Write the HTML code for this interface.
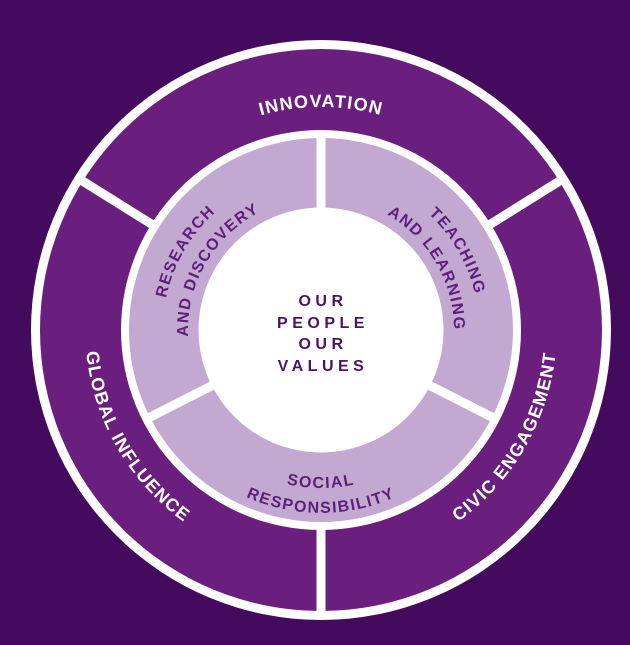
<!DOCTYPE html>
<html><head><meta charset="utf-8"><style>
html,body{margin:0;padding:0;background:#440a5e;}
svg{display:block}
text{font-family:"Liberation Sans",sans-serif;font-weight:bold;}
</style></head><body>
<svg width="630" height="645" viewBox="0 0 630 645" xmlns="http://www.w3.org/2000/svg">
<rect width="630" height="645" fill="#440a5e"/>
<circle cx="321" cy="330" r="290" fill="#ffffff"/>
<circle cx="321" cy="330" r="281" fill="#6a1f7e"/>
<circle cx="321" cy="330" r="200" fill="#ffffff"/>
<circle cx="321" cy="330" r="192" fill="#c3a9d2"/>
<circle cx="321" cy="330" r="122.5" fill="#ffffff"/>
<g stroke="#ffffff" stroke-width="9">
<line x1="155.6" y1="226.7" x2="79.3" y2="179"/>
<line x1="486.4" y1="226.7" x2="562.7" y2="179"/>
<line x1="321" y1="525" x2="321" y2="615"/>
<line x1="321" y1="212" x2="321" y2="134"/>
<line x1="426.1" y1="383.6" x2="495.6" y2="419"/>
<line x1="215.9" y1="383.6" x2="146.4" y2="419"/>
</g>
<defs>
<path id="pInn" d="M98 330 A223 223 0 0 1 544 330"/>
<path id="pGlob" d="M202 123.9 A238 238 0 0 0 440 536.1"/>
<path id="pCivic" d="M202 536.1 A238 238 0 0 0 440 123.9"/>
<path id="pRes" d="M240.5 469.4 A161 161 0 0 1 401.5 190.6"/>
<path id="pAnd1" d="M254.5 445.2 A133 133 0 0 1 387.5 214.8"/>
<path id="pTeach" d="M240.5 190.6 A161 161 0 0 1 401.5 469.4"/>
<path id="pAnd2" d="M254.5 214.8 A133 133 0 0 1 387.5 445.2"/>
<path id="pSoc" d="M163 330 A158 158 0 0 0 479 330"/>
<path id="pResp" d="M138 330 A183 183 0 0 0 504 330"/>
</defs>
<g fill="#ffffff" font-size="18" letter-spacing="1.2">
<text><textPath href="#pInn" startOffset="50%" text-anchor="middle">INNOVATION</textPath></text>
<text><textPath href="#pGlob" startOffset="50%" text-anchor="middle">GLOBAL INFLUENCE</textPath></text>
<text><textPath href="#pCivic" startOffset="50%" text-anchor="middle">CIVIC ENGAGEMENT</textPath></text>
</g>
<g fill="#5c1f78" font-size="16" letter-spacing="1.5">
<text><textPath href="#pRes" startOffset="50%" text-anchor="middle">RESEARCH</textPath></text>
<text><textPath href="#pAnd1" startOffset="50%" text-anchor="middle">AND DISCOVERY</textPath></text>
<text><textPath href="#pTeach" startOffset="50%" text-anchor="middle">TEACHING</textPath></text>
<text><textPath href="#pAnd2" startOffset="50%" text-anchor="middle">AND LEARNING</textPath></text>
<text><textPath href="#pSoc" startOffset="50%" text-anchor="middle">SOCIAL</textPath></text>
<text><textPath href="#pResp" startOffset="50%" text-anchor="middle">RESPONSIBILITY</textPath></text>
</g>
<g fill="#4a1464" font-size="16" letter-spacing="4.5" text-anchor="middle">
<text x="323" y="306">OUR</text>
<text x="323" y="328">PEOPLE</text>
<text x="323" y="349">OUR</text>
<text x="323" y="371">VALUES</text>
</g>
</svg>
</body></html>
